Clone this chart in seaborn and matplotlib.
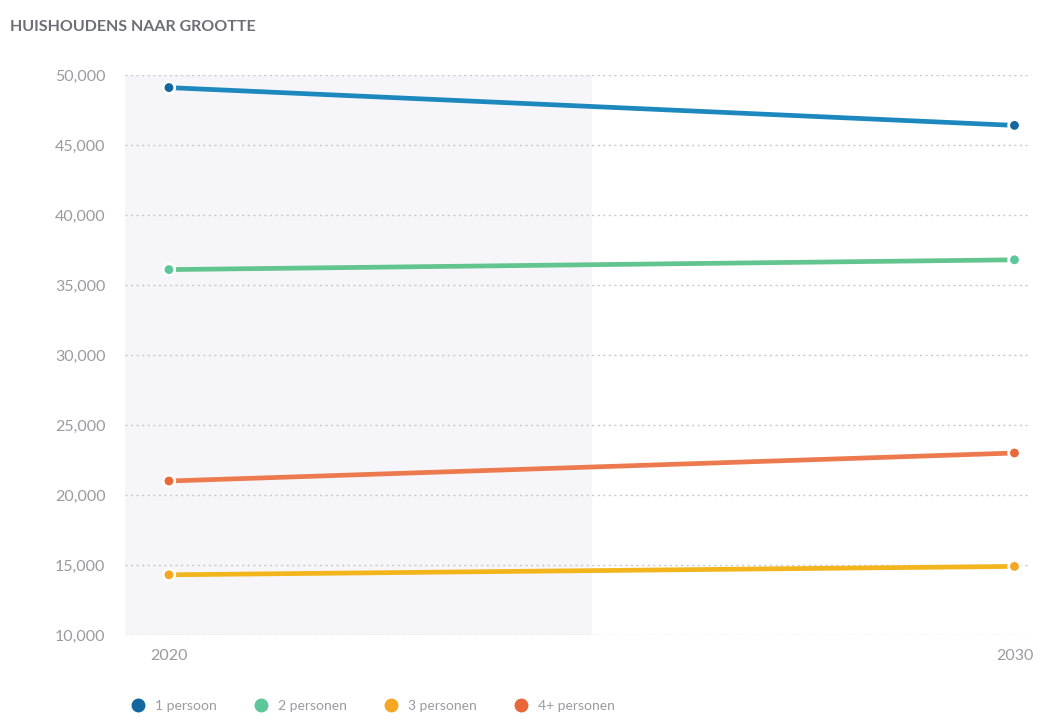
import pandas as pd
import seaborn as sns
import matplotlib

matplotlib.use('Agg')
import matplotlib.pyplot as plt
from matplotlib.lines import Line2D

jaren = [2020, 2030]
reeksen = ["1 persoon", "2 personen", "3 personen", "4+ personen"]
een_persoon = [49100, 46400]
twee_personen = [36100, 36800]
drie_personen = [14300, 14900]
vier_plus = [21000, 23000]

lijn_kleuren = ["#1c88bd", "#62c48e", "#f2b51c", "#ec7a4e"]
punt_kleuren = ["#13669e", "#5cc79a", "#f5a623", "#e8683a"]

df = pd.DataFrame({
    "jaar": jaren * 4,
    "reeks": [r for r in reeksen for _ in jaren],
    "aantal": een_persoon + twee_personen + drie_personen + vier_plus,
})

sns.set_style("white")
plt.rcParams['font.family'] = ['Lato', 'DejaVu Sans']

fig = plt.figure(figsize=(10.38, 7.19), dpi=100)
ax = fig.add_axes([0.1204, 0.1168, 0.8716, 0.7789])

# schaduw voor de historische periode
ax.axvspan(2019.48, 2025, color="#f6f6fa", zorder=0, lw=0)

sns.lineplot(data=df, x="jaar", y="aantal", hue="reeks", palette=lijn_kleuren,
             hue_order=reeksen, linewidth=3.4, legend=False, ax=ax, zorder=2)
sns.scatterplot(data=df, x="jaar", y="aantal", hue="reeks", palette=punt_kleuren,
                hue_order=reeksen, s=70, edgecolor="white", linewidth=2,
                legend=False, ax=ax, zorder=3)

ax.set_xlim(2019.48, 2030.18)
ax.set_ylim(10000, 50000)
ax.set_yticks(range(10000, 50001, 5000))
ax.set_yticklabels([f"{v:,}" for v in range(10000, 50001, 5000)])
ax.set_xticks(jaren)
ax.set_xticklabels([str(j) for j in jaren])
ax.tick_params(axis="both", colors="#9a9aa2", labelsize=11.5, length=0, pad=10)
ax.tick_params(axis="y", pad=14)
ax.yaxis.grid(True, linestyle=(0, (1.5, 2.5)), color="#c8c8cc", linewidth=1)
ax.xaxis.grid(False)
ax.set_xlabel("")
ax.set_ylabel("")
sns.despine(ax=ax, left=True, bottom=True)

fig.text(0.0096, 0.972, "HUISHOUDENS NAAR GROOTTE", fontsize=11.5, fontweight="bold",
         color="#6e6e78", va="top")

handles = [Line2D([], [], marker="o", linestyle="", markersize=9, color=c) for c in punt_kleuren]
fig.legend(handles, reeksen, loc="lower left", bbox_to_anchor=(0.108, -0.008), ncol=4,
           frameon=False, fontsize=10, labelcolor="#9a9aa2", handletextpad=0.2,
           columnspacing=2.2)

fig.savefig("out.png", dpi=100)
